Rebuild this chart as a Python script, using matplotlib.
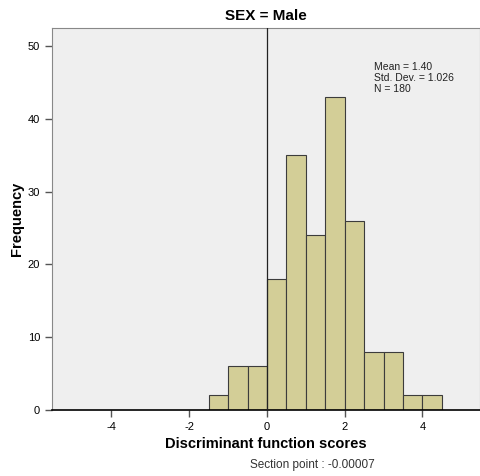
import numpy as np
import matplotlib.pyplot as plt

bin_edges = [-1.5, -1.0, -0.5, 0.0, 0.5, 1.0, 1.5, 2.0, 2.5, 3.0, 3.5, 4.0, 4.5]
counts = [2, 6, 6, 18, 35, 24, 43, 26, 8, 8, 2, 2]
x_ticks = [-4, -2, 0, 2, 4]
y_ticks = [0, 10, 20, 30, 40, 50]
section_point = -0.00007

plt.rcParams['font.family'] = ['Liberation Sans', 'DejaVu Sans']
plt.rcParams['axes.unicode_minus'] = False

fig = plt.figure(figsize=(4.81, 4.76), dpi=100)
ax = fig.add_axes([52 / 481, 66 / 476, 428 / 481, 382 / 476])
ax.set_facecolor('#efefef')

lefts = np.array(bin_edges[:-1])
widths = np.diff(bin_edges)
ax.bar(lefts, counts, width=widths, align='edge', color='#d3ce97',
       edgecolor='#3c3c3c', linewidth=0.8, zorder=2)
ax.axvline(section_point, color='#222222', linewidth=0.9, zorder=3)

ax.set_xlim(-5.53, 5.48)
ax.set_ylim(0, 52.5)
ax.set_xticks(x_ticks)
ax.set_yticks(y_ticks)
ax.tick_params(axis='both', labelsize=8, length=5, width=1, color='#555555', direction='out')

for side in ['left', 'top', 'right']:
    ax.spines[side].set_color('#888888')
    ax.spines[side].set_linewidth(0.8)
ax.spines['bottom'].set_color('black')
ax.spines['bottom'].set_linewidth(1.2)

ax.set_title('SEX = Male', fontsize=11, fontweight='bold', pad=6)
ax.set_xlabel('Discriminant function scores', fontsize=10.5, fontweight='bold', labelpad=4)
ax.set_ylabel('Frequency', fontsize=10.5, fontweight='bold', labelpad=3)

mean = 1.40
sd = 1.026
n = sum(counts)
ax.text(0.753, 0.91, f'Mean = {mean:.2f}\nStd. Dev. = {sd:.3f}\nN = {n}',
        transform=ax.transAxes, fontsize=7.5, va='top', ha='left',
        linespacing=1.1, color='#222222')

fig.text(312 / 481, 1 - 465 / 476, f'Section point : {section_point:.5f}',
         fontsize=8.5, ha='center', va='center', color='#333333')

fig.savefig('out.png', dpi=100)
